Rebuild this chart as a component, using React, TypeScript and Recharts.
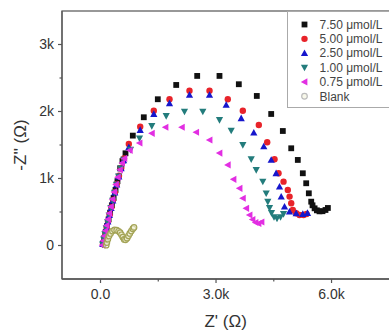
import { ScatterChart, Scatter, XAxis, YAxis, ReferenceArea, Label } from 'recharts';

// Nyquist data: [Z', -Z''] in ohms
const conc750: [number, number][] = [
  [70, 30], [100, 110], [135, 200], [170, 290], [210, 390], [250, 490], [295, 600], [340, 710],
  [390, 830], [440, 960], [511, 1152], [570, 1260], [649, 1376], [839, 1640], [1124, 1914],
  [1488, 2183], [1966, 2396], [2511, 2531], [3090, 2531], [3592, 2407], [4059, 2232], [4433, 1963],
  [4735, 1709], [4953, 1451], [5124, 1277], [5254, 1078], [5342, 929], [5410, 779], [5472, 654],
  [5506, 600], [5560, 555], [5620, 525], [5687, 510], [5765, 512], [5843, 530], [5905, 560],
];
const conc500: [number, number][] = [
  [65, 20], [95, 100], [125, 180], [160, 270], [195, 360], [235, 460], [280, 570], [325, 680],
  [375, 800], [425, 920], [480, 1040], [540, 1160], [610, 1300], [735, 1516], [1031, 1774],
  [1384, 2012], [1792, 2183], [2311, 2311], [2831, 2311], [3306, 2183], [3696, 2012], [4111, 1799],
  [4329, 1541], [4519, 1287], [4623, 1078], [4753, 953], [4864, 829], [4910, 730], [4953, 630],
  [4994, 530], [5082, 481], [5168, 455], [5272, 455], [5350, 470],
];
const conc250: [number, number][] = [
  [60, 20], [90, 95], [120, 175], [155, 265], [190, 355], [230, 455], [275, 560], [320, 670],
  [370, 790], [420, 910], [475, 1030], [535, 1150], [600, 1270], [735, 1466], [1031, 1724],
  [1384, 1963], [1792, 2123], [2311, 2247], [2831, 2247], [3264, 2098], [3654, 1899], [3981, 1684],
  [4240, 1480], [4433, 1277], [4560, 1078], [4649, 878], [4693, 729], [4779, 579], [4908, 505],
  [5082, 481], [5254, 470], [5376, 485],
];
const conc100: [number, number][] = [
  [55, 15], [85, 90], [115, 170], [150, 260], [185, 350], [225, 450], [270, 560], [315, 670],
  [365, 790], [415, 910], [470, 1030], [530, 1150], [600, 1280], [780, 1430], [1013, 1600],
  [1332, 1784], [1706, 1933], [2181, 1998], [2657, 1998], [3090, 1874], [3394, 1714], [3696, 1500],
  [3914, 1287], [4044, 1127], [4215, 953], [4303, 779], [4345, 654], [4389, 560], [4441, 485],
  [4506, 425], [4584, 403], [4675, 425], [4753, 470],
];
const conc075: [number, number][] = [
  [50, 5], [75, 70], [100, 140], [130, 220], [160, 300], [195, 390], [230, 480], [270, 580],
  [310, 690], [355, 800], [400, 910], [450, 1020], [505, 1130], [560, 1230], [620, 1300],
  [760, 1420], [1013, 1530], [1333, 1675], [1688, 1765], [2112, 1765], [2485, 1690], [2831, 1575],
  [3090, 1380], [3306, 1202], [3454, 988], [3610, 854], [3696, 705], [3784, 555], [3870, 455],
  [3947, 388], [4025, 343], [4103, 328], [4181, 351],
];
const blank: [number, number][] = [
  [148, 5], [165, 45], [190, 95], [220, 140], [260, 180], [310, 215], [365, 232], [420, 228],
  [470, 212], [510, 190], [545, 160], [580, 125], [615, 90], [650, 85], [690, 110], [725, 145],
  [760, 180], [800, 215], [840, 250], [870, 270],
];

const seriesNames = ['7.50 μmol/L', '5.00 μmol/L', '2.50 μmol/L', '1.00 μmol/L', '0.75 μmol/L', 'Blank'];
const xTicks = [0, 1500, 3000, 4500, 6000];
const xTickLabels: Record<number, string> = { 0: '0.0', 3000: '3.0k', 6000: '6.0k' };
const yTicks = [0, 500, 1000, 1500, 2000, 2500, 3000];
const yTickLabels: Record<number, string> = { 0: '0', 1000: '1k', 2000: '2k', 3000: '3k' };

type Kind = 'square' | 'circle' | 'up' | 'down' | 'left' | 'open';

const series: { name: string; data: [number, number][]; kind: Kind; color: string }[] = [
  { name: seriesNames[0], data: conc750, kind: 'square', color: '#111111' },
  { name: seriesNames[1], data: conc500, kind: 'circle', color: '#e8232a' },
  { name: seriesNames[2], data: conc250, kind: 'up', color: '#1616cc' },
  { name: seriesNames[3], data: conc100, kind: 'down', color: '#237c7c' },
  { name: seriesNames[4], data: conc075, kind: 'left', color: '#e22ee2' },
  { name: seriesNames[5], data: blank, kind: 'open', color: '#a3a355' },
];

const FONT = '"Liberation Sans", Arial, sans-serif';

function Marker({ kind, cx, cy, color }: { kind: Kind; cx: number; cy: number; color: string }) {
  switch (kind) {
    case 'square':
      return <rect x={cx - 2.9} y={cy - 2.9} width={5.8} height={5.8} fill={color} />;
    case 'circle':
      return <circle cx={cx} cy={cy} r={3.2} fill={color} />;
    case 'up':
      return <polygon points={`${cx},${cy - 3.7} ${cx + 3.6},${cy + 2.9} ${cx - 3.6},${cy + 2.9}`} fill={color} />;
    case 'down':
      return <polygon points={`${cx},${cy + 3.7} ${cx + 3.6},${cy - 2.9} ${cx - 3.6},${cy - 2.9}`} fill={color} />;
    case 'left':
      return <polygon points={`${cx - 3.7},${cy} ${cx + 2.9},${cy - 3.6} ${cx + 2.9},${cy + 3.6}`} fill={color} />;
    default:
      return <circle cx={cx} cy={cy} r={2.8} fill="#f4f4dc" fillOpacity={0.6} stroke={color} strokeWidth={1.2} />;
  }
}

const XTick = (props: any) => {
  const { x, y, payload } = props;
  const label = xTickLabels[payload.value];
  return (
    <g>
      <line x1={x} x2={x} y1={y} y2={y + (label ? 4 : 2.5)} stroke="#555" strokeWidth={1.2} />
      {label && (
        <text x={x} y={y + 10} dy="0.71em" textAnchor="middle" fontSize={14} fill="#333" fontFamily={FONT}>
          {label}
        </text>
      )}
    </g>
  );
};

const YTick = (props: any) => {
  const { x, y, payload } = props;
  const label = yTickLabels[payload.value];
  return (
    <g>
      <line x1={x} x2={x - (label ? 4 : 2.5)} y1={y} y2={y} stroke="#555" strokeWidth={1.2} />
      {label && (
        <text x={x - 8} y={y} dy="0.355em" textAnchor="end" fontSize={14} fill="#333" fontFamily={FONT}>
          {label}
        </text>
      )}
    </g>
  );
};

export default function App() {
  return (
    <div style={{ position: 'absolute', left: 0, top: 0, width: 389, height: 336, overflow: 'hidden', background: '#fff' }}>
      <ScatterChart width={400} height={336} margin={{ top: 11, right: 10.7, bottom: 0, left: 0 }}>
        <XAxis
          type="number"
          dataKey="x"
          domain={[-1000, 7500]}
          ticks={xTicks}
          interval={0}
          tickSize={0}
          tickMargin={0}
          tickLine={false}
          tick={(p: any) => <XTick {...p} />}
          height={57}
          axisLine={{ stroke: '#555', strokeWidth: 1.3 }}
          allowDataOverflow
        >
          <Label
            content={(p: any) => {
              const vb = p.viewBox;
              return (
                <text x={vb.x + vb.width / 2} y={327} textAnchor="middle" fontSize={17} fill="#333" fontFamily={FONT}>
                  Z' (Ω)
                </text>
              );
            }}
          />
        </XAxis>
        <YAxis
          type="number"
          dataKey="y"
          domain={[-500, 3500]}
          ticks={yTicks}
          interval={0}
          tickSize={0}
          tickMargin={0}
          tickLine={false}
          tick={(p: any) => <YTick {...p} />}
          width={62}
          axisLine={{ stroke: '#555', strokeWidth: 1.3 }}
          allowDataOverflow
        >
          <Label
            content={(p: any) => {
              const vb = p.viewBox;
              const cy = vb.y + vb.height / 2;
              return (
                <text
                  x={20}
                  y={cy}
                  transform={`rotate(-90 20 ${cy})`}
                  textAnchor="middle"
                  dy="0.35em"
                  fontSize={17}
                  fill="#333"
                  fontFamily={FONT}
                >
                  -Z'' (Ω)
                </text>
              );
            }}
          />
        </YAxis>
        {/* frame: right edge runs past the visible window, as in the cropped original */}
        <ReferenceArea x1={-1000} x2={8000} y1={-500} y2={3500} fill="none" stroke="#777" strokeWidth={1.3} ifOverflow="visible" />
        {series.map((s) => (
          <Scatter
            key={s.name}
            name={s.name}
            data={s.data.map(([x, y]) => ({ x, y }))}
            isAnimationActive={false}
            shape={(p: any) => <Marker kind={s.kind} cx={p.cx} cy={p.cy} color={s.color} />}
          />
        ))}
      </ScatterChart>
      <div
        style={{
          position: 'absolute',
          left: 287,
          top: 11,
          width: 120,
          height: 97,
          border: '1px solid #aaa',
          boxSizing: 'border-box',
          background: '#fff',
        }}
      >
        <svg width={120} height={97} style={{ position: 'absolute', left: 0, top: 0 }}>
          {series.map((s, i) => {
            const cy = 12.5 + i * 14.35;
            return (
              <g key={s.name}>
                <Marker kind={s.kind} cx={16.5} cy={cy} color={s.kind === 'open' ? '#bbbbbb' : s.color} />
                <text x={31.5} y={cy} dy="0.355em" fontSize={12} fill="#444" fontFamily={FONT}>
                  {s.name}
                </text>
              </g>
            );
          })}
        </svg>
      </div>
    </div>
  );
}
